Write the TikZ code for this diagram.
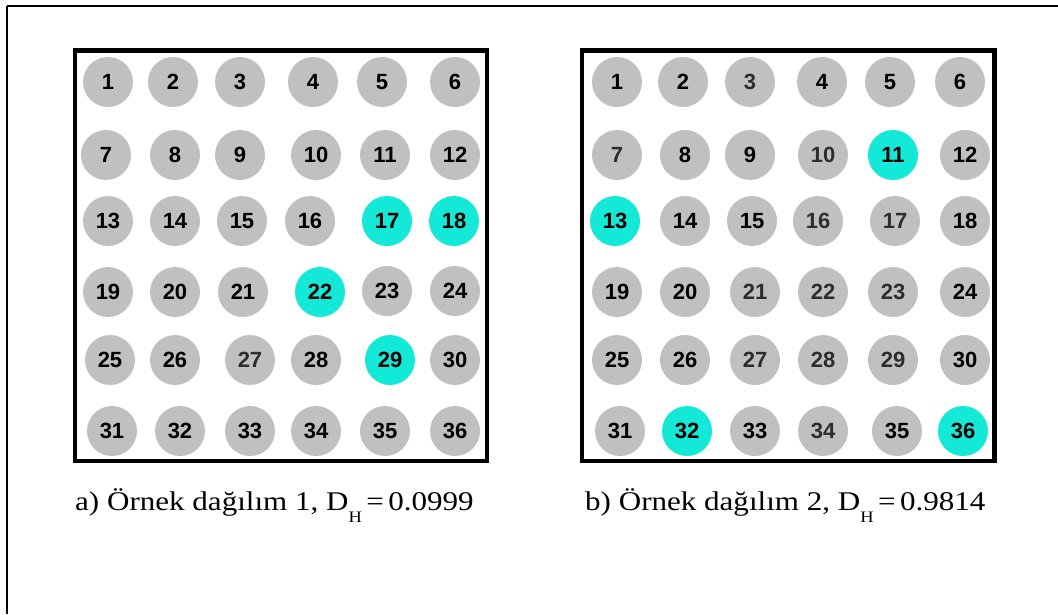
\documentclass[tikz,border=0pt]{standalone}
\usepackage{fontspec}
\setmainfont{Liberation Serif}
\newfontfamily\capfont{Liberation Serif}[FakeStretch=1.15]
\newfontfamily\numfont{Liberation Sans}
\definecolor{diskgray}{RGB}{192,192,192}
\definecolor{diskcyan}{RGB}{20,232,214}
\definecolor{softink}{RGB}{45,45,45}
\begin{document}
\begin{tikzpicture}[x=1pt,y=-1pt,
  disk/.style={circle,fill=diskgray,minimum size=50pt,inner sep=0pt,
    font=\numfont\bfseries\fontsize{22}{22}\selectfont,text=black},
  hit/.style={fill=diskcyan},
  soft/.style={text=softink},
  frame/.style={line width=4.5pt},
  edge/.style={line width=2pt},
  caption/.style={anchor=base west,inner sep=0pt,font=\capfont\fontsize{27}{27}\selectfont}]
\useasboundingbox (0,0) rectangle (1058,614);

% page edge lines (top and left)
\draw[edge] (7,5.5) -- (1058,5.5);
\draw[edge] (7,5.5) -- (7,614);

% grid frames
\draw[frame] (75,50.5) rectangle (487,461);
\draw[frame] (582,50.5) rectangle (994.5,461);

% first distribution
\foreach \n/\x/\y/\s in {
  1/108/82/{}, 2/173/82/{}, 3/240/82/{}, 4/313/82/{}, 5/382/82/{}, 6/455/82/{},
  7/106/155/{}, 8/175/155/{}, 9/240/155/{}, 10/316/155/{}, 11/385/155/{}, 12/455/155/{},
  13/108/221/{}, 14/175/221/{}, 15/242/221/{}, 16/310/221/{}, 17/387/221/hit, 18/454/221/hit,
  19/108/292/{}, 20/175/292/{}, 21/243/292/{}, 22/320/292/hit, 23/387/291/{}, 24/455/291/{},
  25/110/360/{}, 26/175/360/{}, 27/250/360/soft, 28/316/360/{}, 29/390/360/hit, 30/455/360/{},
  31/112/431/{}, 32/180/431/{}, 33/250/431/{}, 34/316/431/{}, 35/385/431/{}, 36/455/431/{}}
  \node[disk,\s] (a\n) at (\x,\y) {\n};

% second distribution
\foreach \n/\x/\y/\s in {
  1/617/82/{}, 2/683/82/{}, 3/750/82/soft, 4/822/82/{}, 5/890/82/{}, 6/960/82/{},
  7/617/155/soft, 8/685/155/{}, 9/750/155/{}, 10/823/155/soft, 11/893/155/hit, 12/965/155/{},
  13/615/221/hit, 14/685/221/{}, 15/752/221/{}, 16/818/221/soft, 17/895/221/soft, 18/965/221/{},
  19/617/292/{}, 20/685/292/{}, 21/755/292/soft, 22/823/292/soft, 23/893/292/soft, 24/965/292/{},
  25/617/360/{}, 26/685/360/{}, 27/755/360/soft, 28/823/360/soft, 29/893/360/soft, 30/965/360/{},
  31/620/431/{}, 32/687/431/hit, 33/755/431/{}, 34/823/431/soft, 35/897/431/{}, 36/963/431/hit}
  \node[disk,\s] (b\n) at (\x,\y) {\n};

% captions
\node[caption] (capa) at (75,510) {a) Örnek dağılım 1, D\raisebox{-12pt}{\fontsize{16}{16}\selectfont H}\,=\,0.0999};
\node[caption] (capb) at (585,510) {b) Örnek dağılım 2, D\raisebox{-12pt}{\fontsize{16}{16}\selectfont H}\,=\,0.9814};
\end{tikzpicture}
\end{document}
